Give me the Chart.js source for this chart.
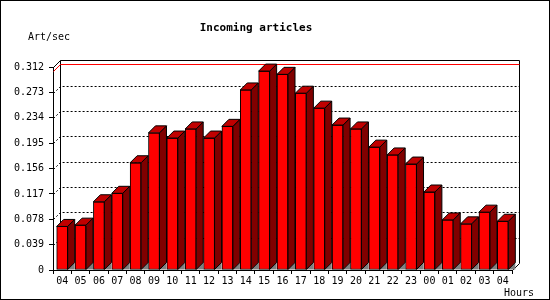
<!DOCTYPE html>
<html lang="en">
<head>
<meta charset="UTF-8">
<title>Incoming articles</title>
<script src="https://cdn.jsdelivr.net/npm/chart.js"></script>
<style>
    body { margin: 0; background: #fff; }
    canvas { display: block; }
</style>
</head>
<body>
<canvas id="chart" width="550" height="300"></canvas>
<script>
    // data
    const hours = ['04', '05', '06', '07', '08', '09', '10', '11', '12', '13', '14', '15', '16',
        '17', '18', '19', '20', '21', '22', '23', '00', '01', '02', '03', '04'];
    const rates = [0.067, 0.069, 0.105, 0.118, 0.165, 0.211, 0.203, 0.217, 0.203, 0.221, 0.277, 0.306, 0.301,
        0.272, 0.249, 0.223, 0.217, 0.189, 0.177, 0.163, 0.120, 0.077, 0.071, 0.089, 0.075];
    const yTicks = [0, 0.039, 0.078, 0.117, 0.156, 0.195, 0.234, 0.273, 0.312];
    const yTickLabels = ['0', '0.039', '0.078', '0.117', '0.156', '0.195', '0.234', '0.273', '0.312'];
    const peakRate = 0.306;

    const DEPTH = 7;
    const MONO = "'DejaVu Sans Mono', monospace";

    // back wall, dotted grid and the red peak line
    const backPlane = {
        id: 'backPlane',
        beforeDatasetsDraw(chart) {
            const ctx = chart.ctx;
            const a = chart.chartArea;
            const y = chart.scales.y;
            const bl = a.left + DEPTH + 0.5, br = a.right + DEPTH + 0.5;
            const yTop = Math.round(y.getPixelForValue(yTicks[yTicks.length - 1])) + 0.5;
            ctx.save();
            ctx.lineWidth = 1;
            ctx.strokeStyle = '#000';
            ctx.setLineDash([2, 2]);
            yTicks.slice(1, -1).forEach(v => {
                const py = Math.round(y.getPixelForValue(v)) + 0.5;
                ctx.beginPath();
                ctx.moveTo(a.left + 0.5, py);
                ctx.lineTo(bl, py - DEPTH);
                ctx.lineTo(br, py - DEPTH);
                ctx.stroke();
            });
            ctx.setLineDash([]);
            ctx.beginPath();
            ctx.moveTo(a.left + 0.5, yTop);
            ctx.lineTo(bl, yTop - DEPTH);
            ctx.lineTo(br, yTop - DEPTH);
            ctx.lineTo(br, a.bottom - DEPTH + 0.5);
            ctx.lineTo(a.right + 0.5, a.bottom + 0.5);
            ctx.moveTo(bl, yTop - DEPTH);
            ctx.lineTo(bl, a.bottom - DEPTH + 0.5);
            ctx.stroke();
            const pk = Math.round(y.getPixelForValue(peakRate)) + 0.5;
            ctx.strokeStyle = '#ff0000';
            ctx.beginPath();
            ctx.moveTo(a.left + 0.5, pk);
            ctx.lineTo(bl, pk - DEPTH);
            ctx.lineTo(br, pk - DEPTH);
            ctx.stroke();
            ctx.restore();
        }
    };

    // top and side faces of each bar
    const bars3d = {
        id: 'bars3d',
        afterDatasetsDraw(chart) {
            const ctx = chart.ctx;
            ctx.save();
            ctx.lineWidth = 1;
            ctx.strokeStyle = '#000';
            chart.getDatasetMeta(0).data.forEach(bar => {
                const xl = bar.x - bar.width / 2, xr = bar.x + bar.width / 2;
                const top = bar.y, base = bar.base;
                ctx.fillStyle = '#808080';
                ctx.beginPath();
                ctx.moveTo(xr, base); ctx.lineTo(xr + DEPTH, base - DEPTH); ctx.lineTo(xr + DEPTH, base);
                ctx.closePath(); ctx.fill();
                ctx.fillStyle = '#800000';
                ctx.beginPath();
                ctx.moveTo(xr, top); ctx.lineTo(xr + DEPTH, top - DEPTH);
                ctx.lineTo(xr + DEPTH, base - DEPTH); ctx.lineTo(xr, base);
                ctx.closePath(); ctx.fill(); ctx.stroke();
                ctx.fillStyle = '#c00000';
                ctx.beginPath();
                ctx.moveTo(xl, top); ctx.lineTo(xl + DEPTH, top - DEPTH);
                ctx.lineTo(xr + DEPTH, top - DEPTH); ctx.lineTo(xr, top);
                ctx.closePath(); ctx.fill(); ctx.stroke();
            });
            ctx.restore();
        }
    };

    // unit labels and the outer frame
    const extras = {
        id: 'extras',
        afterDraw(chart) {
            const ctx = chart.ctx;
            ctx.save();
            ctx.fillStyle = '#000';
            ctx.font = '10px ' + MONO;
            ctx.textBaseline = 'middle';
            ctx.textAlign = 'left';
            ctx.fillText('Art/sec', 28, 37);
            ctx.textAlign = 'right';
            ctx.fillText('Hours', 534, 293);
            ctx.strokeStyle = '#000';
            ctx.lineWidth = 1;
            ctx.strokeRect(0.5, 0.5, chart.width - 1, chart.height - 1);
            ctx.restore();
        }
    };

    new Chart(document.getElementById('chart'), {
        type: 'bar',
        data: {
            labels: hours,
            datasets: [{
                data: rates,
                backgroundColor: '#ff0000',
                borderColor: '#000',
                borderWidth: 1,
                borderSkipped: false,
                barThickness: 11
            }]
        },
        options: {
            responsive: false,
            devicePixelRatio: 1,
            animation: false,
            layout: { padding: { top: 0, right: 38, left: 0, bottom: 0 } },
            plugins: {
                legend: { display: false },
                tooltip: { enabled: false },
                title: {
                    display: true,
                    text: 'Incoming articles',
                    color: '#000',
                    font: { family: MONO, size: 11, weight: 'bold', lineHeight: 1.2 },
                    padding: { top: 22, bottom: 32 }
                }
            },
            scales: {
                x: {
                    grid: { drawOnChartArea: false, tickLength: 4, color: '#000', offset: true },
                    border: { color: '#000' },
                    ticks: { color: '#000', font: { family: MONO, size: 10 }, padding: 1, maxRotation: 0, autoSkip: false },
                    afterFit(scale) { scale.height = 30; }
                },
                y: {
                    min: 0,
                    max: 0.312,
                    grid: { drawOnChartArea: false, tickLength: 4, color: '#000' },
                    border: { color: '#000' },
                    ticks: {
                        color: '#000',
                        font: { family: MONO, size: 10 },
                        padding: 5,
                        callback: (v, i) => yTickLabels[i]
                    },
                    afterBuildTicks(scale) { scale.ticks = yTicks.map(v => ({ value: v })); },
                    afterFit(scale) { scale.width = 53; }
                }
            }
        },
        plugins: [backPlane, bars3d, extras]
    });
</script>
</body>
</html>
